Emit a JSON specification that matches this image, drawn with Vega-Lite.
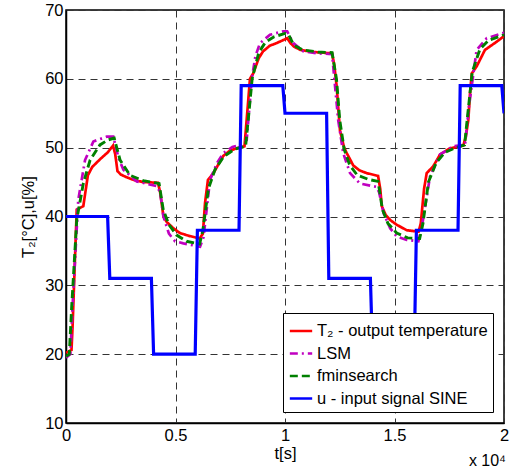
{
  "$schema": "https://vega.github.io/schema/vega-lite/v6.json",
  "width": 438,
  "height": 413,
  "autosize": {"type": "none"},
  "padding": {"left": 66, "top": 10, "right": 9, "bottom": 49},
  "config": {
    "font": "Liberation Sans",
    "view": {"stroke": "black", "strokeWidth": 1.5},
    "axis": {
      "domainColor": "black",
      "domainWidth": 1.5,
      "ticks": false,
      "gridColor": "#333333",
      "gridDash": [7, 5],
      "gridWidth": 1,
      "gridOpacity": 1,
      "labelColor": "black",
      "labelFontSize": 16.5,
      "titleColor": "black",
      "titleFontSize": 16.5,
      "titleFontWeight": "normal"
    },
    "legend": {
      "orient": "none",
      "legendX": 217,
      "legendY": 303,
      "fillColor": "white",
      "strokeColor": "black",
      "padding": 5,
      "labelFontSize": 16.5,
      "labelLimit": 0,
      "labelColor": "black",
      "labelOffset": 3,
      "symbolType": "stroke",
      "symbolStrokeWidth": 2.7,
      "symbolSize": 500,
      "rowPadding": 0.5
    }
  },
  "datasets": {
    "t2": [
      {"t": 0, "v": 20.2}, {"t": 250, "v": 20.6}, {"t": 300, "v": 24}, {"t": 400, "v": 33}, {"t": 490, "v": 41},
      {"t": 790, "v": 41.5}, {"t": 1000, "v": 46}, {"t": 1200, "v": 47.2}, {"t": 1550, "v": 48.3}, {"t": 1900, "v": 49.3},
      {"t": 2150, "v": 50.3}, {"t": 2250, "v": 49}, {"t": 2350, "v": 46.6}, {"t": 2500, "v": 46.1}, {"t": 2770, "v": 45.7},
      {"t": 3100, "v": 45.3}, {"t": 3530, "v": 45.0}, {"t": 4200, "v": 44.9}, {"t": 4300, "v": 43.5}, {"t": 4450, "v": 40},
      {"t": 4600, "v": 39.2}, {"t": 4900, "v": 38.3}, {"t": 5200, "v": 37.6}, {"t": 5600, "v": 37.2}, {"t": 6100, "v": 36.8},
      {"t": 6250, "v": 37.5}, {"t": 6350, "v": 42}, {"t": 6480, "v": 45.3}, {"t": 6730, "v": 46.3}, {"t": 7000, "v": 47.8},
      {"t": 7180, "v": 48.8}, {"t": 7500, "v": 49.6}, {"t": 7800, "v": 49.9}, {"t": 8150, "v": 50.2}, {"t": 8300, "v": 56},
      {"t": 8400, "v": 60}, {"t": 8550, "v": 60.8}, {"t": 8800, "v": 63}, {"t": 9000, "v": 64}, {"t": 9300, "v": 64.8},
      {"t": 9620, "v": 65.2}, {"t": 9900, "v": 65.6}, {"t": 10100, "v": 65.9}, {"t": 10250, "v": 65.2}, {"t": 10400, "v": 64.7},
      {"t": 10700, "v": 64.2}, {"t": 11300, "v": 63.9}, {"t": 12150, "v": 63.7}, {"t": 12250, "v": 62}, {"t": 12360, "v": 58.9},
      {"t": 12450, "v": 55}, {"t": 12510, "v": 52.5}, {"t": 12700, "v": 50}, {"t": 12820, "v": 49.2}, {"t": 13120, "v": 47.4},
      {"t": 13400, "v": 46.7}, {"t": 13730, "v": 46.3}, {"t": 14250, "v": 45.9}, {"t": 14350, "v": 44}, {"t": 14420, "v": 41.5},
      {"t": 14600, "v": 40.2}, {"t": 14800, "v": 39.5}, {"t": 15100, "v": 38.8}, {"t": 15560, "v": 38.0}, {"t": 16100, "v": 37.8},
      {"t": 16200, "v": 39}, {"t": 16350, "v": 44}, {"t": 16470, "v": 46.3}, {"t": 16770, "v": 47.3}, {"t": 17080, "v": 49.0},
      {"t": 17530, "v": 49.9}, {"t": 18140, "v": 50.3}, {"t": 18250, "v": 51.5}, {"t": 18370, "v": 54}, {"t": 18450, "v": 58},
      {"t": 18530, "v": 60.8}, {"t": 18750, "v": 61.8}, {"t": 19130, "v": 64.2}, {"t": 19670, "v": 65.4}, {"t": 20000, "v": 66.2}
    ],
    "lsm": [
      {"t": 0, "v": 19.5}, {"t": 200, "v": 20}, {"t": 300, "v": 27}, {"t": 560, "v": 42.4}, {"t": 870, "v": 48.2},
      {"t": 1250, "v": 50.9}, {"t": 1860, "v": 51.6}, {"t": 2160, "v": 51.6}, {"t": 2400, "v": 48.5}, {"t": 2620, "v": 46.8},
      {"t": 3230, "v": 45.1}, {"t": 4150, "v": 44.4}, {"t": 4300, "v": 43.5}, {"t": 4450, "v": 40}, {"t": 4700, "v": 37.5},
      {"t": 4980, "v": 36.4}, {"t": 5360, "v": 36.1}, {"t": 6120, "v": 35.6}, {"t": 6280, "v": 37}, {"t": 6575, "v": 45.3},
      {"t": 6900, "v": 47.8}, {"t": 7180, "v": 49.2}, {"t": 7600, "v": 50.1}, {"t": 7945, "v": 50.4}, {"t": 8250, "v": 51.1},
      {"t": 8480, "v": 59.9}, {"t": 8650, "v": 63.3}, {"t": 8860, "v": 65.2}, {"t": 9315, "v": 66.4}, {"t": 9920, "v": 66.9},
      {"t": 10100, "v": 66.9}, {"t": 10380, "v": 65.2}, {"t": 10830, "v": 64}, {"t": 11500, "v": 63.7}, {"t": 12150, "v": 63.6},
      {"t": 12430, "v": 54}, {"t": 12660, "v": 49.2}, {"t": 12970, "v": 46.3}, {"t": 13420, "v": 44.8}, {"t": 14180, "v": 44.3},
      {"t": 14300, "v": 43.5}, {"t": 14500, "v": 40.5}, {"t": 14800, "v": 38.3}, {"t": 15100, "v": 37.1}, {"t": 15560, "v": 36.6},
      {"t": 16090, "v": 36.4}, {"t": 16250, "v": 38.5}, {"t": 16620, "v": 45.8}, {"t": 17080, "v": 49}, {"t": 17680, "v": 50.2},
      {"t": 18220, "v": 50.4}, {"t": 18400, "v": 56}, {"t": 18750, "v": 64.2}, {"t": 19210, "v": 65.9}, {"t": 20000, "v": 66.7}
    ],
    "fmin": [
      {"t": 0, "v": 19.7}, {"t": 150, "v": 20}, {"t": 260, "v": 26.9}, {"t": 490, "v": 39.5}, {"t": 790, "v": 44.8},
      {"t": 1100, "v": 48.2}, {"t": 1550, "v": 50.4}, {"t": 1900, "v": 51.1}, {"t": 2200, "v": 51.4}, {"t": 2470, "v": 48.2},
      {"t": 2920, "v": 46}, {"t": 3530, "v": 45.2}, {"t": 4250, "v": 44.8}, {"t": 4440, "v": 41}, {"t": 4700, "v": 38.8},
      {"t": 5050, "v": 37.3}, {"t": 5500, "v": 36.4}, {"t": 6100, "v": 36.0}, {"t": 6250, "v": 38}, {"t": 6500, "v": 44},
      {"t": 6800, "v": 46.8}, {"t": 7200, "v": 48.7}, {"t": 7700, "v": 49.8}, {"t": 8200, "v": 50.2}, {"t": 8350, "v": 55},
      {"t": 8500, "v": 60}, {"t": 8800, "v": 63.8}, {"t": 9100, "v": 65.3}, {"t": 9500, "v": 66.1}, {"t": 10000, "v": 66.6},
      {"t": 10150, "v": 66.5}, {"t": 10400, "v": 64.9}, {"t": 10800, "v": 64.2}, {"t": 11500, "v": 63.9}, {"t": 12150, "v": 63.8},
      {"t": 12350, "v": 60}, {"t": 12500, "v": 54}, {"t": 12700, "v": 49.8}, {"t": 12950, "v": 47.5}, {"t": 13300, "v": 46.0},
      {"t": 13800, "v": 45.4}, {"t": 14250, "v": 45.1}, {"t": 14450, "v": 41}, {"t": 14700, "v": 39}, {"t": 15100, "v": 37.6},
      {"t": 15600, "v": 36.9}, {"t": 16150, "v": 36.8}, {"t": 16300, "v": 39}, {"t": 16550, "v": 45}, {"t": 16900, "v": 47.8},
      {"t": 17300, "v": 49.3}, {"t": 17800, "v": 50}, {"t": 18200, "v": 50.4}, {"t": 18350, "v": 55}, {"t": 18550, "v": 61},
      {"t": 18900, "v": 64.3}, {"t": 19300, "v": 65.6}, {"t": 20000, "v": 66.4}
    ],
    "u": [
      {"t": 0, "v": 40}, {"t": 1900, "v": 40}, {"t": 2000, "v": 31}, {"t": 3900, "v": 31}, {"t": 4000, "v": 20},
      {"t": 5900, "v": 20}, {"t": 6000, "v": 38}, {"t": 7900, "v": 38}, {"t": 8000, "v": 59}, {"t": 9900, "v": 59},
      {"t": 10000, "v": 55}, {"t": 11900, "v": 55}, {"t": 12000, "v": 31}, {"t": 13900, "v": 31}, {"t": 14000, "v": 20},
      {"t": 15900, "v": 20}, {"t": 16000, "v": 38}, {"t": 17900, "v": 38}, {"t": 18000, "v": 59}, {"t": 19900, "v": 59},
      {"t": 20000, "v": 55}
    ],
    "scaleNote": [{"t": 20000, "v": 10, "label": "x 10⁴"}]
  },
  "encoding": {
    "x": {
      "field": "t",
      "type": "quantitative",
      "scale": {"domain": [0, 20000], "nice": false, "zero": false},
      "axis": {
        "title": "t[s]",
        "values": [0, 5000, 10000, 15000, 20000],
        "labelExpr": "datum.value / 10000",
        "labelPadding": 4,
        "titlePadding": 2,
        "labelFlush": false
      }
    },
    "y": {
      "field": "v",
      "type": "quantitative",
      "scale": {"domain": [10, 70], "nice": false, "zero": false},
      "axis": {
        "title": "T₂[°C],u[%]",
        "values": [10, 20, 30, 40, 50, 60, 70],
        "labelPadding": 3,
        "titlePadding": 8,
        "labelFlush": false
      }
    }
  },
  "layer": [
    {
      "data": {"name": "t2"},
      "mark": {"type": "line", "strokeWidth": 2.7, "clip": true},
      "encoding": {
        "color": {"datum": "T₂ - output temperature", "type": "nominal",
          "scale": {"domain": ["T₂ - output temperature", "LSM", "fminsearch", "u - input signal SINE"],
                    "range": ["#ff0000", "#c000c0", "#008000", "#0000ff"]},
          "legend": {"title": null}},
        "strokeDash": {"datum": "T₂ - output temperature", "type": "nominal",
          "scale": {"domain": ["T₂ - output temperature", "LSM", "fminsearch", "u - input signal SINE"],
                    "range": [[1, 0], [8, 4, 2, 4], [8, 4], [1, 0]]},
          "legend": {"title": null}}
      }
    },
    {
      "data": {"name": "lsm"},
      "mark": {"type": "line", "strokeWidth": 2.7, "clip": true},
      "encoding": {
        "color": {"datum": "LSM", "type": "nominal"},
        "strokeDash": {"datum": "LSM", "type": "nominal"}
      }
    },
    {
      "data": {"name": "fmin"},
      "mark": {"type": "line", "strokeWidth": 2.9, "clip": true},
      "encoding": {
        "color": {"datum": "fminsearch", "type": "nominal"},
        "strokeDash": {"datum": "fminsearch", "type": "nominal"}
      }
    },
    {
      "data": {"name": "u"},
      "mark": {"type": "line", "strokeWidth": 3.2, "clip": true},
      "encoding": {
        "color": {"datum": "u - input signal SINE", "type": "nominal"},
        "strokeDash": {"datum": "u - input signal SINE", "type": "nominal"}
      }
    },
    {
      "data": {"name": "scaleNote"},
      "mark": {"type": "text", "align": "right", "baseline": "middle", "dy": 38, "dx": 2, "fontSize": 16, "color": "black"},
      "encoding": {
        "text": {"field": "label"}
      }
    }
  ]
}
